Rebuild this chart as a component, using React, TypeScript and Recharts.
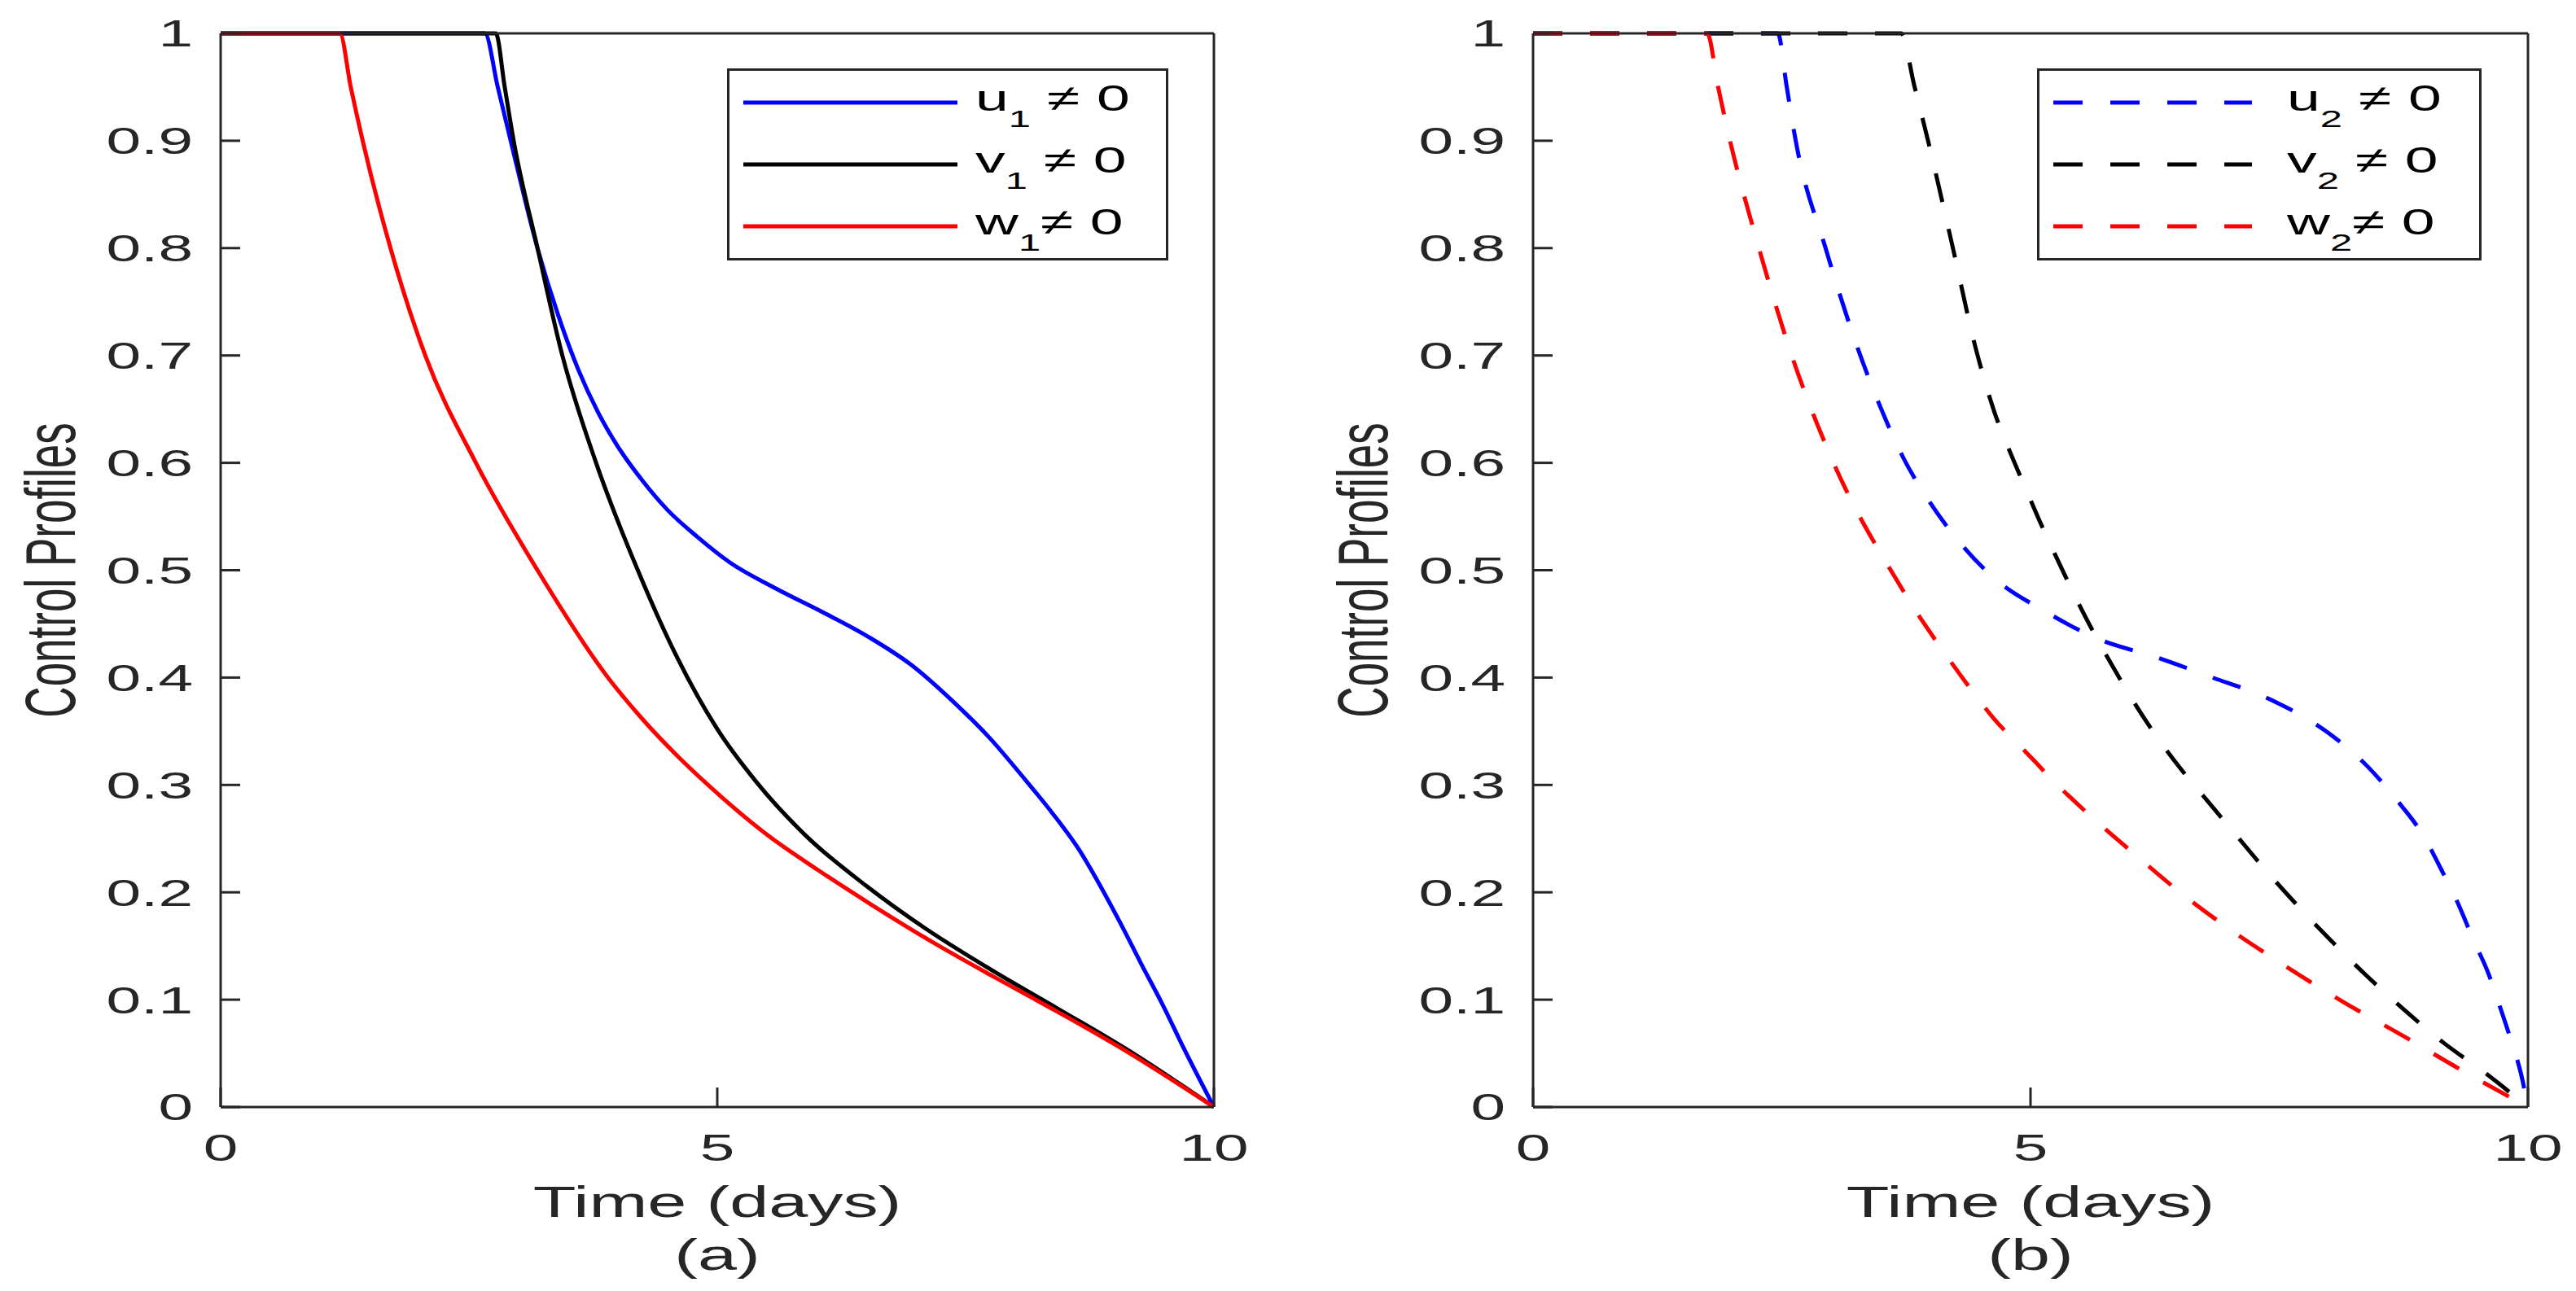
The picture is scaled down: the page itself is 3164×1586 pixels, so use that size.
import React from 'react';
import { LineChart, Line, XAxis, YAxis } from 'recharts';

// panel (a): solid profiles
const u1Time = [0, 2.66, 2.79, 2.92, 3.19, 3.4, 3.6, 3.8, 4.0, 4.25, 4.5, 4.8, 5.13, 5.59, 6.06, 6.52, 6.95, 7.37, 7.75, 8.09, 8.38, 8.64, 8.85, 9.06, 9.27, 9.48, 9.69, 10];
const u1Value = [1, 1, 0.95, 0.9, 0.8, 0.737, 0.687, 0.647, 0.615, 0.583, 0.556, 0.531, 0.507, 0.483, 0.461, 0.438, 0.412, 0.378, 0.343, 0.306, 0.273, 0.24, 0.207, 0.171, 0.133, 0.096, 0.056, 0];

const v1Time = [0, 2.77, 2.86, 2.95, 3.19, 3.44, 3.78, 4.2, 4.6, 5.0, 5.4, 5.9, 6.5, 7.1, 7.7, 8.42, 9.1, 10];
const v1Value = [1, 1, 0.95, 0.9, 0.8, 0.7, 0.6, 0.5, 0.418, 0.352, 0.302, 0.252, 0.206, 0.166, 0.131, 0.092, 0.055, 0];

const w1Time = [0, 1.2, 1.31, 1.43, 1.71, 2.06, 2.57, 3.19, 3.9, 4.24, 4.62, 5.04, 5.51, 6.01, 6.56, 7.16, 7.79, 8.42, 9.1, 10];
const w1Value = [1, 1, 0.95, 0.9, 0.8, 0.7, 0.6, 0.5, 0.4, 0.362, 0.325, 0.289, 0.253, 0.221, 0.188, 0.154, 0.121, 0.089, 0.053, 0];

// panel (b): dashed profiles
const u2Time = [0, 2.46, 2.55, 2.64, 2.94, 3.27, 3.5, 3.72, 3.99, 4.27, 4.63, 5.14, 5.68, 6.26, 6.83, 7.4, 7.97, 8.39, 8.69, 8.94, 9.13, 9.3, 9.45, 9.6, 9.72, 9.83, 9.93, 10];
const u2Value = [1, 1, 0.95, 0.9, 0.8, 0.705, 0.65, 0.605, 0.563, 0.528, 0.493, 0.462, 0.436, 0.419, 0.4, 0.38, 0.35, 0.317, 0.285, 0.254, 0.221, 0.189, 0.156, 0.125, 0.093, 0.062, 0.031, 0];

const v2Time = [0, 3.7, 3.83, 3.97, 4.22, 4.44, 4.62, 4.84, 4.97, 5.11, 5.26, 5.43, 5.6, 5.81, 6.02, 6.26, 6.51, 6.78, 7.06, 7.36, 7.67, 8.01, 8.37, 8.75, 9.15, 9.58, 10];
const v2Value = [1, 1, 0.952, 0.9, 0.8, 0.71, 0.652, 0.6, 0.572, 0.542, 0.512, 0.479, 0.448, 0.413, 0.38, 0.346, 0.315, 0.285, 0.254, 0.221, 0.189, 0.156, 0.123, 0.091, 0.06, 0.031, 0];

const w2Time = [0, 1.75, 1.86, 1.98, 2.27, 2.6, 3.02, 3.68, 3.89, 4.12, 4.37, 4.63, 4.95, 5.26, 5.64, 6.04, 6.49, 6.95, 7.5, 8.16, 8.75, 9.32, 10];
const w2Value = [1, 1, 0.95, 0.9, 0.8, 0.7, 0.6, 0.487, 0.456, 0.425, 0.393, 0.362, 0.331, 0.301, 0.268, 0.236, 0.201, 0.169, 0.135, 0.097, 0.066, 0.035, 0];

const timeTicks = [0, 5, 10];
const profileTicks = [0, 0.1, 0.2, 0.3, 0.4, 0.5, 0.6, 0.7, 0.8, 0.9, 1];

const legendA = [
  { base: 'u', sub: '1', tail: ' \u2260 0' },
  { base: 'v', sub: '1', tail: ' \u2260 0' },
  { base: 'w', sub: '1', tail: '\u2260 0' },
];
const legendB = [
  { base: 'u', sub: '2', tail: ' \u2260 0' },
  { base: 'v', sub: '2', tail: ' \u2260 0' },
  { base: 'w', sub: '2', tail: '\u2260 0' },
];

const COLORS = ['#0000ff', '#000000', '#ff0000'];
const INK = '#262626';
const FONT = '"Liberation Sans", Arial, Helvetica, sans-serif';
// the source figure is stretched sideways, so glyphs get the same treatment
const STRETCH = 1.63;
const DASH = '36 34';

const toPoints = (t: number[], v: number[]) => t.map((x, i) => ({ t: x, v: v[i] }));

const YTick = ({ x, y, payload }: any) => (
  <g transform={`translate(${x},${y}) scale(${STRETCH},1)`}>
    <text textAnchor="end" dy="0.35em" fontSize={47} fill={INK} fontFamily={FONT}>
      {String(payload.value)}
    </text>
  </g>
);

const XTick = ({ x, y, payload }: any) => (
  <g transform={`translate(${x},${y}) scale(${STRETCH},1)`}>
    <text textAnchor="middle" dy="0.71em" fontSize={47} fill={INK} fontFamily={FONT}>
      {String(payload.value)}
    </text>
  </g>
);

const xTitle = (tag: string) => (props: any) => {
  const vb = props.viewBox;
  const cx = vb.x + vb.width / 2;
  return (
    <g>
      <g transform={`translate(${cx},${vb.y + 135}) scale(${STRETCH},1)`}>
        <text textAnchor="middle" fontSize={53} fill={INK} fontFamily={FONT}>Time (days)</text>
      </g>
      <g transform={`translate(${cx},${vb.y + 200}) scale(${STRETCH},1)`}>
        <text textAnchor="middle" fontSize={53} fill={INK} fontFamily={FONT}>{tag}</text>
      </g>
    </g>
  );
};

const yTitle = (props: any) => {
  const vb = props.viewBox;
  const x = vb.x + vb.width - 179;
  const y = vb.y + vb.height / 2;
  return (
    <g transform={`translate(${x},${y}) rotate(-90) scale(1,${STRETCH})`}>
      <text textAnchor="middle" fontSize={53} fill={INK} fontFamily={FONT}>Control Profiles</text>
    </g>
  );
};

interface LegendItem { base: string; sub: string; tail: string }

const LegendBox = ({ left, width, sample, items, dashed }: { left: number; width: number; sample: number; items: LegendItem[]; dashed: boolean }) => {
  const rowY = [42, 118, 194];
  return (
    <svg
      width={width}
      height={236}
      style={{ position: 'absolute', left, top: 84, overflow: 'visible' }}
    >
      <rect x={1.5} y={1.5} width={width - 3} height={233} fill="#fff" stroke={INK} strokeWidth={3} />
      {items.map((item, i) => (
        <g key={item.base}>
          <line
            x1={20}
            x2={20 + sample}
            y1={rowY[i]}
            y2={rowY[i]}
            stroke={COLORS[i]}
            strokeWidth={5}
            strokeDasharray={dashed ? DASH : undefined}
          />
          <g transform={`translate(${sample + (dashed ? 63 : 42)},${rowY[i] + 10}) scale(${STRETCH},1)`}>
            <text fontSize={45} fill="#000" fontFamily={FONT} style={{ whiteSpace: 'pre' }}>
              {item.base}
              <tspan fontSize={30} dy={20}>{item.sub}</tspan>
              <tspan fontSize={45} dy={-20}>{item.tail}</tspan>
            </text>
          </g>
        </g>
      ))}
    </svg>
  );
};

const Panel = ({ left, axisWidth, rightMargin, series, dashed, tag, legend }: any) => {
  const axisStroke = { stroke: INK, strokeWidth: 3 };
  return (
    <div style={{ position: 'absolute', left, top: 0, width: 1582, height: 1586 }}>
      <LineChart width={1582} height={1586} margin={{ top: 40, right: rightMargin, bottom: 0, left: 0 }}>
        <XAxis
          dataKey="t"
          type="number"
          domain={[0, 10]}
          ticks={timeTicks}
          interval={0}
          height={226}
          tickSize={-24}
          tickMargin={57}
          axisLine={axisStroke}
          tickLine={axisStroke}
          tick={<XTick />}
          label={xTitle(tag)}
        />
        <XAxis
          xAxisId="top"
          orientation="top"
          type="number"
          domain={[0, 10]}
          ticks={timeTicks}
          interval={0}
          height={1}
          tickSize={-24}
          axisLine={axisStroke}
          tickLine={axisStroke}
          tick={false}
        />
        <YAxis
          type="number"
          domain={[0, 1]}
          ticks={profileTicks}
          interval={0}
          width={axisWidth}
          tickSize={-24}
          tickMargin={58}
          axisLine={axisStroke}
          tickLine={axisStroke}
          tick={<YTick />}
          label={yTitle}
        />
        <YAxis
          yAxisId="right"
          orientation="right"
          type="number"
          domain={[0, 1]}
          ticks={profileTicks}
          interval={0}
          width={1}
          tickSize={-24}
          axisLine={axisStroke}
          tickLine={axisStroke}
          tick={false}
        />
        {series.map((s: any, i: number) => (
          <Line
            key={i}
            data={s}
            dataKey="v"
            type="monotone"
            stroke={COLORS[i]}
            strokeWidth={5}
            strokeDasharray={dashed ? DASH : undefined}
            dot={false}
            activeDot={false}
            isAnimationActive={false}
          />
        ))}
      </LineChart>
      {legend}
    </div>
  );
};

export default function App() {
  const seriesA = [toPoints(u1Time, u1Value), toPoints(v1Time, v1Value), toPoints(w1Time, w1Value)];
  const seriesB = [toPoints(u2Time, u2Value), toPoints(v2Time, v2Value), toPoints(w2Time, w2Value)];
  return (
    <div style={{ position: 'absolute', left: 0, top: 0, width: 3164, height: 1586, background: '#fff', overflow: 'hidden' }}>
      <Panel
        left={0}
        axisWidth={271}
        rightMargin={90}
        series={seriesA}
        dashed={false}
        tag="(a)"
        legend={<LegendBox left={893} width={542} sample={263} items={legendA} dashed={false} />}
      />
      <Panel
        left={1582}
        axisWidth={301}
        rightMargin={58}
        series={seriesB}
        dashed={true}
        tag="(b)"
        legend={<LegendBox left={920} width={546} sample={244} items={legendB} dashed={true} />}
      />
    </div>
  );
}
